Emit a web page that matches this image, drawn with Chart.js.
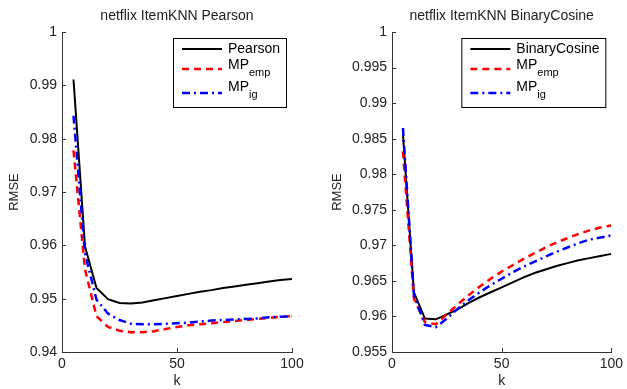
<!DOCTYPE html>
<html lang="en">
<head>
  <meta charset="UTF-8" />
  <title>netflix ItemKNN RMSE</title>
  <script src="https://cdn.jsdelivr.net/npm/chart.js"></script>
  <style>
    html, body { margin: 0; padding: 0; background: #fff; }
    body { width: 627px; height: 389px; position: relative; overflow: hidden; }
    .panel { position: absolute; top: 0; height: 389px; }
    #leftPanel { left: 0; width: 320px; }
    #rightPanel { left: 320px; width: 307px; }
  </style>
</head>
<body>
  <div class="panel" id="leftPanel"><canvas id="pearsonChart"></canvas></div>
  <div class="panel" id="rightPanel"><canvas id="cosineChart"></canvas></div>

  <script>
    // neighbourhood size k
    const kValues = [5, 10, 15, 20, 25, 30, 35, 40, 45, 50, 55, 60, 65, 70, 75, 80, 85, 90, 95, 100];

    // left panel: Pearson similarity
    const pearsonRmse = [0.9911, 0.9598, 0.9520, 0.9499, 0.9492, 0.9491, 0.9493, 0.9497, 0.9501, 0.9505,
                         0.9509, 0.9513, 0.9516, 0.9520, 0.9523, 0.9526, 0.9529, 0.9532, 0.9535, 0.9537];
    const pearsonMpEmp = [0.9778, 0.9555, 0.9467, 0.9447, 0.9440, 0.9437, 0.9437, 0.9439, 0.9443, 0.9447,
                          0.9450, 0.9452, 0.9454, 0.9456, 0.9458, 0.9460, 0.9462, 0.9464, 0.9466, 0.9467];
    const pearsonMpIg  = [0.9843, 0.9585, 0.9498, 0.9472, 0.9460, 0.9453, 0.9452, 0.9452, 0.9453, 0.9454,
                          0.9455, 0.9457, 0.9459, 0.9460, 0.9461, 0.9462, 0.9463, 0.9465, 0.9466, 0.9467];

    // right panel: binary cosine similarity
    const cosineRmse  = [0.9856, 0.9634, 0.9597, 0.9596, 0.9603, 0.9610, 0.9619, 0.9627, 0.9634, 0.9641,
                         0.9648, 0.9655, 0.9661, 0.9666, 0.9671, 0.9675, 0.9679, 0.9682, 0.9685, 0.9688];
    const cosineMpEmp = [0.9832, 0.9625, 0.9592, 0.9589, 0.9603, 0.9617, 0.9630, 0.9642, 0.9653, 0.9663,
                         0.9672, 0.9681, 0.9689, 0.9697, 0.9704, 0.9710, 0.9716, 0.9721, 0.9725, 0.9728];
    const cosineMpIg  = [0.9865, 0.9630, 0.9588, 0.9585, 0.9597, 0.9611, 0.9623, 0.9634, 0.9644, 0.9653,
                         0.9662, 0.9670, 0.9677, 0.9684, 0.9691, 0.9697, 0.9703, 0.9708, 0.9711, 0.9714];

    const xTicks = [0, 50, 100];

    const FONT = '"Liberation Sans", Arial, Helvetica, sans-serif';

    function toPoints(values) {
      return kValues.map((k, i) => ({ x: k, y: values[i] }));
    }

    // title, inward ticks and matlab style legend
    const matlabDecor = {
      id: 'matlabDecor',
      afterDatasetsDraw(chart, args, opts) {
        const ctx = chart.ctx;
        const area = chart.chartArea;
        const xs = chart.scales.x;
        const ys = chart.scales.y;

        ctx.save();
        // inward ticks
        ctx.strokeStyle = '#333';
        ctx.lineWidth = 1;
        ctx.beginPath();
        xs.ticks.forEach(t => {
          const px = Math.round(xs.getPixelForValue(t.value)) + 0.5;
          ctx.moveTo(px, area.bottom);
          ctx.lineTo(px, area.bottom - 4);
        });
        ys.ticks.forEach(t => {
          const py = Math.round(ys.getPixelForValue(t.value)) + 0.5;
          ctx.moveTo(area.left, py);
          ctx.lineTo(area.left + 4, py);
        });
        ctx.stroke();

        // title
        ctx.fillStyle = '#222';
        ctx.font = '14px ' + FONT;
        ctx.textAlign = 'center';
        ctx.textBaseline = 'middle';
        ctx.fillText(opts.title, (area.left + area.right) / 2, 16);

        // legend
        const entries = chart.data.datasets.slice().reverse();
        const mainFont = '14px ' + FONT;
        const subFont = '11px ' + FONT;
        let maxW = 0;
        entries.forEach(ds => {
          ctx.font = mainFont;
          let w = ctx.measureText(ds.label).width;
          if (ds.sub) {
            ctx.font = subFont;
            w += ctx.measureText(ds.sub).width;
          }
          maxW = Math.max(maxW, w);
        });
        const boxW = Math.round(55 + maxW + 6);
        const boxR = area.right - 6;
        const boxL = boxR - boxW;
        const boxT = area.top + 6;
        const boxH = 69;
        ctx.fillStyle = '#fff';
        ctx.fillRect(boxL, boxT, boxW, boxH);
        ctx.strokeStyle = '#000';
        ctx.lineWidth = 1;
        ctx.strokeRect(boxL + 0.5, boxT + 0.5, boxW, boxH);

        const lineY = [11, 31, 55];
        const textY = [11, 27, 49];
        entries.forEach((ds, i) => {
          ctx.beginPath();
          ctx.strokeStyle = ds.borderColor;
          ctx.lineWidth = ds.borderWidth;
          ctx.setLineDash(ds.borderDash || []);
          ctx.moveTo(boxL + 9, boxT + lineY[i]);
          ctx.lineTo(boxL + 49, boxT + lineY[i]);
          ctx.stroke();
          ctx.setLineDash([]);

          ctx.fillStyle = '#000';
          ctx.textAlign = 'left';
          ctx.textBaseline = 'middle';
          ctx.font = mainFont;
          const tx = boxL + 55;
          ctx.fillText(ds.label, tx, boxT + textY[i]);
          if (ds.sub) {
            const w = ctx.measureText(ds.label).width;
            ctx.font = subFont;
            ctx.fillText(ds.sub, tx + w, boxT + textY[i] + 8);
          }
        });
        ctx.restore();
      }
    };

    function makeChart(canvasId, title, baseLabel, base, emp, ig, yMin, yStep, yAxisWidth, yTitlePad, rightPad) {
      const ctx = document.getElementById(canvasId).getContext('2d');
      return new Chart(ctx, {
        type: 'line',
        data: {
          datasets: [
            {
              label: 'MP', sub: 'ig',
              data: toPoints(ig),
              borderColor: '#0000ff',
              borderWidth: 2.5,
              borderDash: [8, 4, 2, 4],
              order: 1
            },
            {
              label: 'MP', sub: 'emp',
              data: toPoints(emp),
              borderColor: '#ff0000',
              borderWidth: 2.5,
              borderDash: [7, 5],
              order: 2
            },
            {
              label: baseLabel,
              data: toPoints(base),
              borderColor: '#000000',
              borderWidth: 2,
              order: 3
            }
          ]
        },
        options: {
          responsive: true,
          maintainAspectRatio: false,
          animation: false,
          layout: { padding: { top: 32, right: rightPad, left: 0, bottom: 0 } },
          elements: {
            point: { radius: 0, hoverRadius: 0 },
            line: { tension: 0, fill: false }
          },
          scales: {
            x: {
              type: 'linear',
              min: 0,
              max: 100,
              afterBuildTicks(scale) {
                scale.ticks = xTicks.map(v => ({ value: v }));
              },
              afterFit(scale) { scale.height = 37; },
              grid: { display: false, drawTicks: false },
              border: { display: true, color: '#333', width: 1 },
              ticks: {
                color: '#222',
                font: { family: FONT, size: 14 },
                padding: 4,
                maxRotation: 0
              },
              title: {
                display: true,
                text: 'k',
                color: '#222',
                font: { family: FONT, size: 14, lineHeight: 1 },
                padding: { top: 0, bottom: 1 }
              }
            },
            y: {
              type: 'linear',
              min: yMin,
              max: 1,
              afterFit(scale) { scale.width = yAxisWidth; },
              grid: { display: false, drawTicks: false },
              border: { display: true, color: '#333', width: 1 },
              ticks: {
                stepSize: yStep,
                color: '#222',
                font: { family: FONT, size: 14 },
                padding: 5,
                callback: v => String(+v.toFixed(3))
              },
              title: {
                display: true,
                text: 'RMSE',
                color: '#222',
                font: { family: FONT, size: 13, lineHeight: 1 },
                padding: { top: yTitlePad, bottom: 0 }
              }
            }
          },
          plugins: {
            legend: { display: false },
            tooltip: { enabled: false },
            matlabDecor: { title: title }
          }
        },
        plugins: [matlabDecor]
      });
    }

    makeChart('pearsonChart', 'netflix ItemKNN Pearson', 'Pearson',
      pearsonRmse, pearsonMpEmp, pearsonMpIg, 0.94, 0.01, 62, 8, 28);
    makeChart('cosineChart', 'netflix ItemKNN BinaryCosine', 'BinaryCosine',
      cosineRmse, cosineMpEmp, cosineMpIg, 0.955, 0.005, 72, 11, 11);
  </script>
</body>
</html>
